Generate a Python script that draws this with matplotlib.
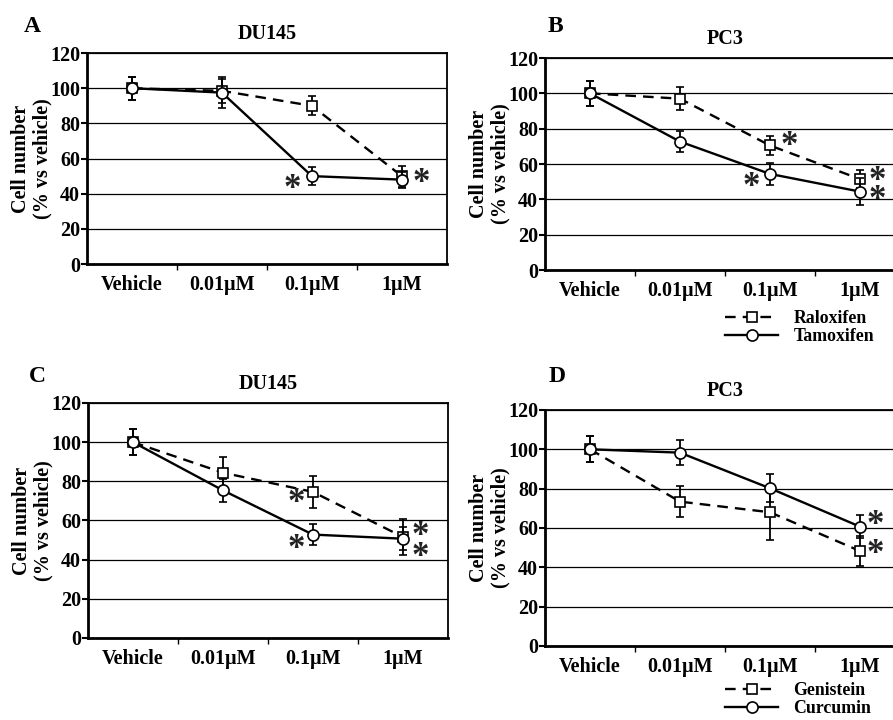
import matplotlib.pyplot as plt
from matplotlib.lines import Line2D
import numpy as np

plt.rcParams.update({
    "font.family": ["Liberation Serif", "DejaVu Serif"],
    "font.weight": "bold",
    "axes.labelweight": "bold",
    "font.size": 14.5,
    "mathtext.fontset": "custom",
    "mathtext.rm": "Liberation Serif",
})

categories = ["Vehicle", "0.01µM", "0.1µM", "1µM"]

# A: DU145, raloxifen (dashed) / tamoxifen (solid)
a_dash = [100, 98.5, 90, 50]
a_dash_err = [6.5, 7, 5.5, 6]
a_solid = [100, 97.5, 50, 48]
a_solid_err = [6.5, 9, 5, 4.5]

# B: PC3, raloxifen / tamoxifen
b_dash = [100, 97, 70.5, 51.5]
b_dash_err = [7, 6.5, 5.3, 5]
b_solid = [100, 72.7, 54.4, 44.4]
b_solid_err = [7, 6, 6, 7.5]

# C: DU145, genistein / curcumin
c_dash = [100, 84.4, 74.6, 51.6]
c_dash_err = [6.6, 8, 8, 9]
c_solid = [100, 75.4, 52.8, 50.7]
c_solid_err = [6.6, 6, 5.5, 6]

# D: PC3, genistein / curcumin
d_dash = [100, 73.4, 68, 48.3]
d_dash_err = [6.6, 8, 14, 7.5]
d_solid = [100, 98.3, 80.2, 60.7]
d_solid_err = [6.6, 6.5, 7, 6]

# significance marks: (series, point index, dx pt, dy pt)
a_stars = [("s", 2, -14, -8), ("s", 3, 14, -1)]
b_stars = [("d", 2, 14, 1), ("s", 2, -14, -8), ("d", 3, 12, 0), ("s", 3, 12, -5)]
c_stars = [("d", 2, -12, -7), ("s", 2, -12, -9), ("d", 3, 12, 2), ("s", 3, 12, -12)]
d_stars = [("s", 3, 11, 2), ("d", 3, 11, -1)]


def draw_panel(ax, title, dash, dash_err, solid, solid_err, stars):
    x = np.arange(len(categories)) + 0.5
    ax.errorbar(x, dash, yerr=dash_err, color="black", ls=(0, (4.5, 3)), lw=1.7,
                marker="s", ms=7.5, mfc="white", mec="black", mew=1.2,
                capsize=3, elinewidth=1.3, capthick=1.3, zorder=3)
    ax.errorbar(x, solid, yerr=solid_err, color="black", ls="-", lw=1.7,
                marker="o", ms=8, mfc="white", mec="black", mew=1.2,
                capsize=3, elinewidth=1.3, capthick=1.3, zorder=4)
    for s, i, dx, dy in stars:
        y = dash[i] if s == "d" else solid[i]
        ax.annotate(r"$\mathrm{*}$", (x[i], y), xytext=(dx, dy),
                    textcoords="offset points", ha="center", va="center",
                    fontsize=25, color="#222222", zorder=5)
    ax.set_xlim(0, 4)
    ax.set_ylim(0, 120)
    ax.set_yticks(np.arange(0, 121, 20))
    ax.set_xticks(x)
    ax.set_xticklabels(categories)
    ax.set_xticks([1, 2, 3], minor=True)
    ax.tick_params(axis="x", which="major", length=0, pad=8)
    ax.tick_params(axis="x", which="minor", length=4, width=1, direction="out")
    ax.tick_params(axis="y", length=4, width=1.5, direction="out", pad=1)
    ax.yaxis.grid(True, color="black", lw=0.9)
    ax.set_axisbelow(True)
    for side in ["left", "bottom"]:
        ax.spines[side].set_linewidth(2)
    for side in ["top", "right"]:
        ax.spines[side].set_linewidth(1.3)
    ax.set_ylabel("Cell number\n(% vs vehicle)", linespacing=1.05)
    ax.yaxis.set_label_coords(-0.097, 0.5)
    ax.set_title(title, fontsize=14.5, fontweight="bold", pad=10)


fig = plt.figure(figsize=(8.93, 7.2), dpi=100)
ax_a = fig.add_axes([0.0974, 0.6333, 0.403, 0.293])
ax_b = fig.add_axes([0.6103, 0.625, 0.403, 0.2944])
ax_c = fig.add_axes([0.0985, 0.1139, 0.403, 0.3264])
ax_d = fig.add_axes([0.6103, 0.1028, 0.403, 0.3278])

draw_panel(ax_a, "DU145", a_dash, a_dash_err, a_solid, a_solid_err, a_stars)
draw_panel(ax_b, "PC3", b_dash, b_dash_err, b_solid, b_solid_err, b_stars)
draw_panel(ax_c, "DU145", c_dash, c_dash_err, c_solid, c_solid_err, c_stars)
draw_panel(ax_d, "PC3", d_dash, d_dash_err, d_solid, d_solid_err, d_stars)

for lbl, px, py in [("A", 32, 26), ("B", 555, 26), ("C", 37, 377), ("D", 557, 377)]:
    fig.text(px / 893, 1 - py / 720, lbl, fontsize=17, ha="center", va="center")


def add_legend(names, y_px):
    handles = [
        Line2D([], [], color="black", ls=(0, (4.5, 3)), lw=1.7, marker="s",
               ms=7.5, mfc="white", mec="black", mew=1.2),
        Line2D([], [], color="black", ls="-", lw=1.7, marker="o",
               ms=8, mfc="white", mec="black", mew=1.2),
    ]
    fig.legend(handles, names, loc="upper left",
               bbox_to_anchor=(725 / 893, 1 - y_px / 720), frameon=False,
               fontsize=12.8, handlelength=3.0, handletextpad=0.85,
               labelspacing=0.05, borderpad=0, borderaxespad=0)


add_legend(["Raloxifen", "Tamoxifen"], 310)
add_legend(["Genistein", "Curcumin"], 682)

plt.savefig("out.png", dpi=100)
